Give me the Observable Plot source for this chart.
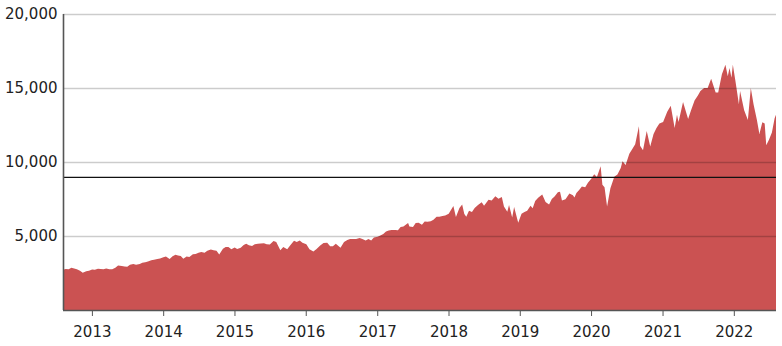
<!DOCTYPE html>
<html>
<head>
<meta charset="utf-8">
<script src="https://cdn.jsdelivr.net/npm/d3@7"></script>
<script src="https://cdn.jsdelivr.net/npm/@observablehq/plot@0.6"></script>
<style>
  html, body { margin: 0; padding: 0; background: #fff; }
  #chart { width: 782px; height: 346px; }
</style>
</head>
<body>
<div id="chart"></div>
<script>
const dates = [
"2012-08-06","2012-08-20","2012-09-04","2012-09-18","2012-10-02","2012-10-16","2012-11-01","2012-11-15","2012-12-03","2012-12-17",
"2013-01-02","2013-01-16","2013-02-01","2013-02-15","2013-03-01","2013-03-15","2013-04-01","2013-04-15","2013-05-01","2013-05-15",
"2013-06-03","2013-06-17","2013-07-01","2013-07-15","2013-08-01","2013-08-15","2013-09-03","2013-09-16","2013-10-01","2013-10-15",
"2013-11-01","2013-11-15","2013-12-02","2013-12-16",
"2014-01-02","2014-01-15","2014-02-03","2014-02-18","2014-03-05","2014-03-18","2014-04-01","2014-04-14","2014-05-01","2014-05-15",
"2014-06-02","2014-06-16","2014-07-01","2014-07-15","2014-08-01","2014-08-15","2014-09-02","2014-09-16","2014-10-01","2014-10-15",
"2014-11-03","2014-11-17","2014-12-01","2014-12-16",
"2015-01-02","2015-01-15","2015-02-02","2015-02-17","2015-03-02","2015-03-16","2015-04-01","2015-04-15","2015-05-01","2015-05-15",
"2015-06-01","2015-06-15","2015-07-01","2015-07-20","2015-08-03","2015-08-24","2015-09-08","2015-09-28","2015-10-15","2015-11-02",
"2015-11-16","2015-12-01","2015-12-15",
"2016-01-04","2016-01-20","2016-02-09","2016-02-24","2016-03-15","2016-04-01","2016-04-20","2016-05-05","2016-05-19","2016-06-03",
"2016-06-27","2016-07-15","2016-08-01","2016-08-15","2016-09-01","2016-09-15","2016-10-03","2016-10-17","2016-11-03","2016-11-17",
"2016-12-01","2016-12-15",
"2017-01-03","2017-01-17","2017-02-01","2017-02-15","2017-03-01","2017-03-15","2017-04-03","2017-04-17","2017-05-01","2017-05-15",
"2017-06-08","2017-06-15","2017-07-03","2017-07-17","2017-08-01","2017-08-18","2017-09-01","2017-09-15","2017-10-02","2017-10-16",
"2017-11-01","2017-11-15","2017-12-01","2017-12-15",
"2018-01-02","2018-01-26","2018-02-08","2018-02-26","2018-03-12","2018-03-23","2018-04-02","2018-04-16","2018-05-01","2018-05-15",
"2018-06-01","2018-06-20","2018-07-02","2018-07-25","2018-08-10","2018-08-29","2018-09-14","2018-10-01","2018-10-12","2018-10-29",
"2018-11-07","2018-11-23","2018-12-03","2018-12-24",
"2019-01-10","2019-01-25","2019-02-08","2019-02-25","2019-03-08","2019-03-21","2019-04-05","2019-04-26","2019-05-13","2019-05-31",
"2019-06-14","2019-06-28","2019-07-15","2019-07-26","2019-08-05","2019-08-23","2019-09-12","2019-09-30","2019-10-08","2019-10-18",
"2019-11-01","2019-11-15","2019-12-02","2019-12-16",
"2020-01-02","2020-01-17","2020-01-31","2020-02-19","2020-02-28","2020-03-10","2020-03-23","2020-04-09","2020-04-29","2020-05-15",
"2020-06-01","2020-06-10","2020-06-26","2020-07-15","2020-07-31","2020-08-14","2020-09-02","2020-09-08","2020-09-23","2020-10-12",
"2020-10-30","2020-11-16","2020-12-01","2020-12-16",
"2021-01-04","2021-01-25","2021-02-12","2021-03-04","2021-03-16","2021-03-24","2021-04-16","2021-05-12","2021-05-27","2021-06-14",
"2021-07-01","2021-07-14","2021-08-02","2021-08-20","2021-09-07","2021-09-30","2021-10-13","2021-11-01","2021-11-19","2021-12-01",
"2021-12-10","2021-12-20","2021-12-27",
"2022-01-10","2022-01-27","2022-02-02","2022-02-23","2022-03-14","2022-03-29","2022-04-12","2022-04-29","2022-05-12","2022-05-27",
"2022-06-08","2022-06-16","2022-06-30","2022-07-15","2022-07-29","2022-08-05"
];
const values = [
2720,2770,2760,2860,2800,2750,2650,2520,2620,2660,
2740,2720,2780,2770,2760,2810,2760,2760,2860,3000,
2970,2940,2920,3060,3100,3050,3100,3200,3230,3280,
3360,3400,3450,3480,
3560,3610,3440,3640,3730,3680,3650,3460,3610,3580,
3760,3790,3860,3920,3860,4000,4080,4030,4000,3750,
4140,4260,4250,4100,
4230,4130,4200,4400,4480,4380,4330,4440,4480,4490,
4510,4440,4420,4670,4600,4040,4250,4100,4400,4680,
4600,4700,4550,
4450,4100,3950,4100,4350,4520,4540,4300,4300,4480,
4200,4600,4730,4800,4790,4800,4870,4800,4690,4800,
4700,4900,
4950,5030,5130,5300,5380,5400,5400,5390,5600,5650,
5880,5650,5600,5880,5900,5760,5980,5970,6000,6100,
6300,6300,6350,6390,
6510,7020,6280,6900,7130,6480,6300,6700,6620,6900,
7090,7280,7050,7450,7400,7690,7520,7630,7000,6640,
7100,6250,6960,5900,
6500,6630,6700,7050,6880,7370,7580,7800,7300,7130,
7500,7670,7950,7990,7400,7490,7870,7750,7600,7900,
8100,8350,8300,8600,
8870,9170,8990,9720,8460,8300,6990,8230,9000,9150,
9600,10050,9800,10550,10900,11200,12420,11100,10800,12100,
11050,11900,12300,12600,
12700,13400,13800,12300,13200,12700,14050,12900,13500,14150,
14500,14800,15000,15000,15630,14690,14700,15930,16570,15800,
16350,15700,16570,
15400,13900,14800,13500,12830,15000,13900,12850,11900,12680,
12600,11130,11500,12000,12950,13200
];
const yTicks = [5000, 10000, 15000, 20000];
const refLevel = [9000];

const parse = d3.utcParse("%Y-%m-%d");
const data = dates.map((d, i) => ({date: parse(d), value: values[i]}));
const xDomain = [data[0].date, data[data.length - 1].date];

const chart = Plot.plot({
  width: 782,
  height: 346,
  marginLeft: 63,
  marginRight: 6,
  marginTop: 14,
  marginBottom: 36,
  style: {fontFamily: "'DejaVu Sans', Verdana, sans-serif", fontSize: "15px", color: "#222", background: "#fff"},
  x: {type: "utc", domain: xDomain},
  y: {domain: [0, 20000]},
  marks: [
    Plot.areaY(data, {x: "date", y: "value", fill: "#cb5252"}),
    Plot.gridY(yTicks, {stroke: "#000", strokeOpacity: 0.2, strokeWidth: 1.5}),
    Plot.ruleY(refLevel, {stroke: "#111", strokeWidth: 1.3}),
    Plot.axisY(yTicks, {tickSize: 0, tickPadding: 6, label: null, fontSize: 15, tickFormat: d3.format(",")}),
    Plot.axisX({ticks: d3.utcYear.every(1), tickFormat: d3.utcFormat("%Y"), tickSize: 6, tickPadding: 10, label: null, fontSize: 15, stroke: "#555"}),
    Plot.ruleX([xDomain[0]], {stroke: "#555", strokeWidth: 1.6}),
    Plot.ruleY([0], {stroke: "#555", strokeWidth: 1.6})
  ]
});
document.getElementById("chart").appendChild(chart);
</script>
</body>
</html>
